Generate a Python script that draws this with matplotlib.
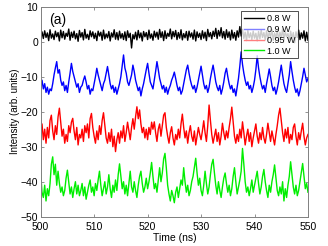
import numpy as np
import matplotlib.pyplot as plt
from matplotlib.lines import Line2D

plt.rcParams['font.family'] = ['Liberation Sans', 'DejaVu Sans']

# traces, ~0.25 ns steps from 500 to 550 ns
p08 = [0.5, 2.8, 0.9, 3.1, 1.2, 2.5, 0.3, 3.4, 1.0, 2.2,
       0.6, 3.0, 1.4, 2.6, 0.2, 3.3, 1.1, 2.9, 0.7, 2.4,
       1.5, 3.6, 0.4, 2.7, 1.2, 3.0, 0.8, 2.3, 0.1, 3.2,
       1.3, 2.6, 0.5, 3.5, 1.0, 2.1, 0.6, 3.1, 1.4, 2.8,
       0.9, 2.4, 0.3, 3.0, 1.6, 2.7, 0.4, 3.3, 0.8, 2.2,
       1.1, 2.9, 0.2, 2.5, 1.3, 3.4, 0.7, 2.6, 0.5, 3.0,
       1.0, 2.3, 0.6, 2.8, 0.3, 3.1, 1.2, 2.4, -1.8, 2.0,
       0.8, 2.7, 0.5, 3.2, 1.1, 2.5, 0.2, 2.9, 1.4, 2.6,
       0.6, 3.3, 1.0, 2.2, 0.4, 3.0, 1.3, 2.7, 0.7, 3.5,
       1.2, 2.8, 0.3, 3.1, 0.9, 2.4, 1.5, 3.6, 0.8, 2.9,
       1.4, 3.2, 0.6, 2.6, 1.0, 3.4, 0.5, 2.3, 1.1, 2.9,
       0.4, 3.0, 1.3, 2.5, 0.7, 3.3, 0.2, 2.8, 1.2, 2.4,
       0.6, 3.1, 1.0, 2.7, 0.3, 3.5, 1.4, 2.6, 0.8, 3.0,
       1.5, 3.8, 0.9, 3.2, 1.6, 4.0, 1.1, 2.9, 0.7, 3.4,
       1.2, 2.8, 0.5, 3.3, 1.0, 2.6, 0.4, 3.1, 1.3, 4.3,
       1.6, 3.5, 0.9, 2.7, 0.3, 3.2, 1.1, 2.5, 0.6, 3.0,
       1.0, 2.4, 0.2, 2.9, 0.8, 3.3, 1.2, 2.6, 0.5, 3.1,
       0.7, 2.8, 1.3, 3.4, 0.4, 2.5, 1.0, 3.2, 0.6, 2.7,
       1.1, 3.6, 0.5, 2.9, 1.4, 2.3, 0.3, 3.0, 0.9, 2.6,
       -0.3, 2.8, 1.2, 3.3, 0.6, 2.5, 1.0, 3.1, 0.2, 2.7, 0.4]

p09 = [-12.5, -11, -13.5, -12, -14.5, -13, -15, -13.5, -14, -12,
       -9.5, -7.5, -5.7, -9, -8, -11, -12.5, -11.5, -14, -12.5,
       -14.5, -11.5, -9, -6.2, -8.5, -10, -11.5, -13, -12, -14.5,
       -13, -12.5, -11, -9.8, -11.5, -13.5, -12.5, -15, -13.5, -14,
       -12, -10, -7.6, -9.5, -11, -12.5, -14, -12, -11, -9,
       -7.1, -9.5, -12, -13.5, -12.5, -14.5, -13, -15, -13.5, -12,
       -10, -7, -3.8, -7.5, -9, -11.5, -12.5, -11, -9.5, -6.7,
       -8.5, -11, -12.5, -14, -13, -15.5, -13.5, -12, -10, -8,
       -6.2, -9, -11.5, -12.5, -13.5, -11, -8.5, -5.7, -8, -10.5,
       -12, -13.5, -12.5, -14.5, -13, -15, -13.5, -12.5, -11, -10,
       -8.7, -10.5, -12.5, -14, -13, -15, -14, -12, -10, -8,
       -6.7, -9, -11, -12.5, -13.5, -12.5, -14.5, -13, -11, -9,
       -7, -9.5, -12, -13.5, -12.5, -14.5, -13, -10.5, -8.5, -6.7,
       -9, -11.5, -13, -14, -12.5, -15, -13.5, -11.5, -9, -7.6,
       -10, -12, -13.5, -12.5, -14.5, -13.5, -15.5, -13, -10.5, -7,
       -2.9, -6.5, -9, -11, -12.5, -11.5, -13.5, -12.5, -14.5, -13,
       -11, -8, -4.0, -7.5, -10, -12, -13.5, -12.5, -14.5, -12,
       -10, -7.8, -10, -12.5, -14, -13, -15, -13.5, -11.5, -9,
       -6.7, -9.5, -12, -13.5, -14.5, -12, -9.5, -5.7, -8.5, -11,
       -13, -14.5, -13.5, -15.5, -14, -12, -10, -7.6, -9.5, -11.5, -10.5]

p095 = [-26, -23.5, -28, -25, -29, -24.5, -27.5, -22.5, -21, -25.5,
        -28, -24, -26.5, -21.5, -19, -23, -27, -25, -29, -26.5,
        -28.5, -24, -26, -23, -21.9, -25.5, -28, -24.5, -29.5, -26.5,
        -27.5, -25, -28.5, -24, -26, -23.5, -27.5, -22, -20.5, -24.5,
        -27, -29, -25.5, -28, -24, -26.5, -22.5, -20.3, -24, -27.5,
        -29, -26, -28.5, -25, -30, -27, -31.4, -28, -26, -29,
        -25.5, -27.5, -24, -28.5, -26, -23, -25.5, -28, -24.5, -22,
        -25, -21.5, -18.6, -22, -19.5, -23.5, -26, -24.5, -27.5, -25,
        -28, -24.5, -26.5, -23, -25, -22.9, -26, -28.5, -25, -23.5,
        -27, -24, -21, -20.3, -24.5, -27, -29, -26, -24.3, -27.5,
        -29.5, -26.5, -28, -25, -27.5, -23.5, -20.7, -24.5, -27.5, -25.5,
        -29, -26, -24, -27, -28.5, -25.5, -29.5, -27, -24.5, -26.5,
        -28, -25.5, -22.6, -26, -28.5, -24, -18.1, -22.5, -26.5, -29,
        -27, -25, -28.5, -26, -29.5, -27, -23.3, -26, -28, -25.5,
        -27.5, -24.5, -22, -18.7, -23, -27, -29, -26.5, -28.5, -25,
        -27.5, -22.9, -26, -29.5, -27, -25, -28.5, -26, -30, -27.5,
        -25.5, -23.5, -27, -29, -26, -28, -24.5, -27.5, -29, -26.5,
        -23.3, -26, -28.5, -25.5, -27.5, -29.5, -26.5, -24, -21, -19,
        -22.5, -26, -28.5, -25, -27.5, -24.5, -29, -26.5, -28, -24.5,
        -23.5, -27, -29.5, -26, -28, -25.5, -23.3, -27, -29.5, -27.5, -26.5]

p10 = [-37.5, -43, -44.5, -41, -45.5, -42, -44, -40.5, -35, -32.9,
       -38, -35, -41, -37, -40.5, -43, -41.5, -44, -42.5, -39,
       -36.7, -40, -43.5, -41.5, -44.5, -42, -40, -43.5, -41, -44,
       -42.5, -40.5, -44, -41.5, -45, -43, -41, -39.5, -43, -41.5,
       -44, -40.5, -42.5, -39.5, -37, -41, -44, -42, -40, -43.5,
       -41.5, -38, -42, -44.5, -41, -43, -39.5, -42.5, -38, -34.9,
       -38.5, -42, -40, -43.5, -41, -44, -40.5, -37, -41.5, -43,
       -40, -42.5, -44.5, -41, -38.5, -37, -40.5, -43, -41.5, -39,
       -42, -40, -37.5, -34.5, -38.5, -42, -40.5, -43, -39.5, -36,
       -40, -37.5, -33.5, -31.9, -36, -41, -43.5, -45.5, -42.5, -44,
       -46, -43, -41.5, -44.5, -42, -39.5, -41, -36, -40, -43,
       -41, -44, -42.5, -40, -38.5, -36, -33.3, -37.5, -41, -39,
       -42.5, -44, -41, -37, -40.5, -43.5, -41.5, -38, -35, -33.6,
       -37.5, -41, -43.5, -40, -42.5, -44.5, -41.5, -39, -37.5, -40.5,
       -43, -41, -44, -42, -38.5, -36, -40, -43.5, -41.5, -39.5,
       -37, -30.5, -35, -40, -43, -41.5, -44, -42, -39.5, -43,
       -41, -39, -37, -40.5, -43.5, -41.5, -38.5, -36.5, -40, -42.5,
       -44.5, -41, -43, -40, -38, -35.2, -39, -42.5, -44, -41.5,
       -43.5, -40, -45.5, -42, -44.5, -41, -38.5, -34.3, -38, -41.5,
       -43.5, -41, -44, -42.5, -40, -37.5, -34.8, -38.5, -42, -40.5, -43]

labels = ['0.8 W', '0.9 W', '0.95 W', '1.0 W']
colors = ['black', 'blue', 'red', '#00ee00']
legend_colors = ['black', '#7f7fff', '#ff7f7f', '#00ee00']
series = [p08, p09, p095, p10]

fig = plt.figure(figsize=(3.28, 2.46), dpi=100)
ax = fig.add_axes([0.124, 0.119, 0.815, 0.854])

for y, c in zip(series, colors):
    t = np.linspace(500, 550, len(y))
    ax.plot(t, y, color=c, lw=1.0)

ax.set_xlim(500, 550)
ax.set_ylim(-50, 10)
ax.set_xticks(range(500, 551, 10))
ax.set_yticks(range(-50, 11, 10))
ax.tick_params(direction='in', top=True, right=True, labelsize=7.5,
               length=2.5, width=0.6, color='#808080')
ax.tick_params(axis='x', pad=3.5)
ax.tick_params(axis='y', pad=2)
for s in ax.spines.values():
    s.set_color('#808080')
    s.set_linewidth(0.7)
ax.set_xlabel('Time (ns)', fontsize=7.5, labelpad=1)
ax.set_ylabel('Intensity (arb. units)', fontsize=7, labelpad=0)
ax.text(0.03, 0.97, '(a)', transform=ax.transAxes, fontsize=10, va='top')

handles = [Line2D([], [], color=c, lw=1.0) for c in legend_colors]
leg = ax.legend(handles, labels, loc='upper right', bbox_to_anchor=(0.962, 0.977),
                fontsize=6.5, frameon=True, fancybox=False, handlelength=2.2,
                labelspacing=0.2, borderpad=0.3, handletextpad=0.3, borderaxespad=0)
leg.get_frame().set_edgecolor('black')
leg.get_frame().set_linewidth(0.6)

fig.savefig('out.png', dpi=100)
